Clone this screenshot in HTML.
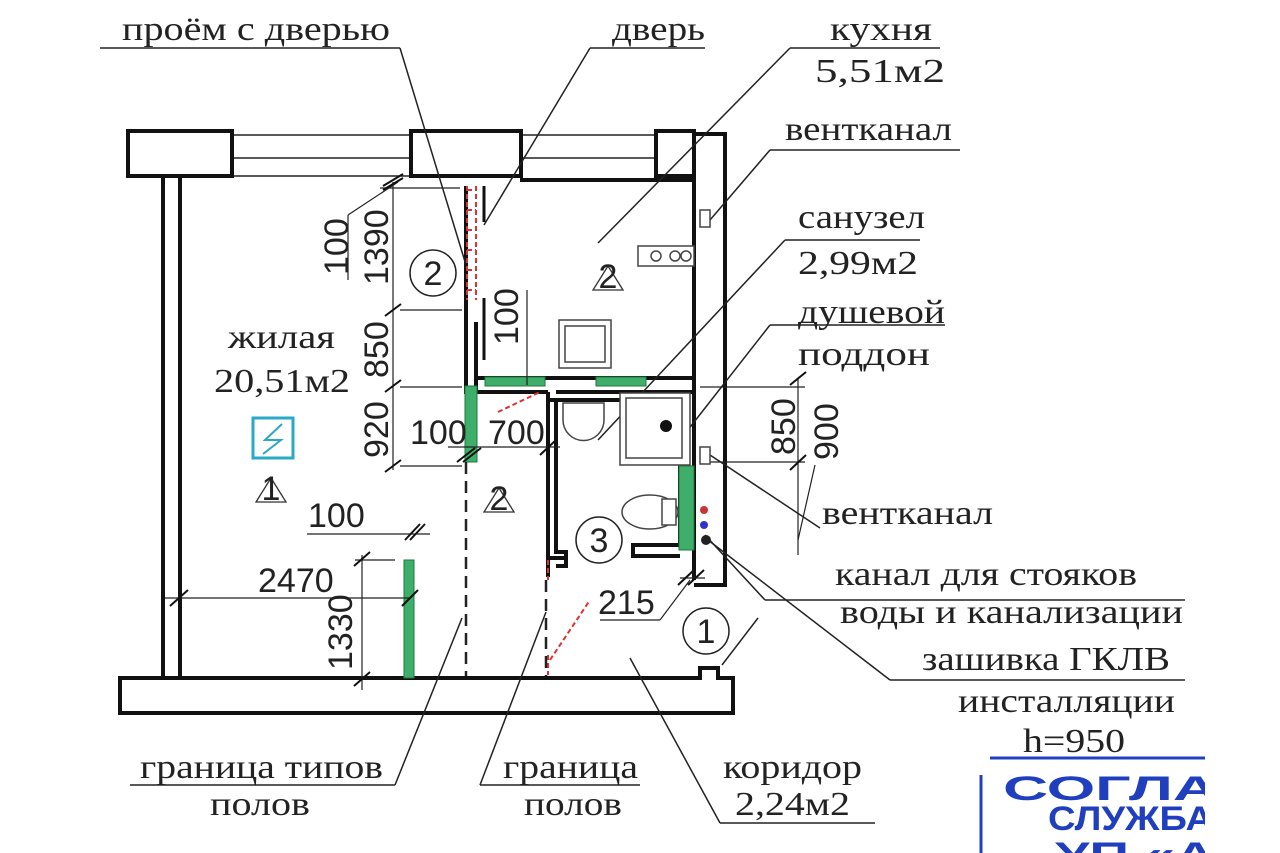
<!DOCTYPE html>
<html><head><meta charset="utf-8"><style>
html,body{margin:0;padding:0;background:#fff;}
svg{display:block}
text{font-family:"Liberation Serif",serif;font-size:34px;fill:#222}
.s{font-family:"Liberation Sans",sans-serif;}
</style></head><body>
<svg width="1280" height="853" viewBox="0 0 1280 853" xmlns="http://www.w3.org/2000/svg">
<g stroke="#222" fill="none" stroke-width="1.5">
<line x1="232" y1="135" x2="410" y2="135"/><line x1="232" y1="158" x2="410" y2="158"/><line x1="232" y1="176" x2="410" y2="176"/>
<line x1="520" y1="135" x2="655" y2="135"/><line x1="520" y1="158" x2="655" y2="158"/>
</g>
<g stroke="#111" fill="#fff" stroke-width="4">
<rect x="128" y="131" width="104" height="45"/>
<rect x="411" y="131" width="110" height="45"/>
<rect x="656" y="131" width="38" height="45"/>
</g>
<g stroke="#111" stroke-width="4" fill="none">
<path d="M163 176 V678 M180 176 V678"/>
<path d="M694 134 H725 V585 H694 M694 176 V400"/>
<path d="M520 180 H694"/>
<path d="M466 322 V392 H476 V322 M466 186 V322"/>
<path d="M476 378 H694 M476 392 H548 M632 392 H694"/>
<path d="M548 392 V558 H566 M548 400 V577"/>
<path d="M556 400 V552 H566 V566 H556"/>
<path d="M556 392 H680 M548 400 H680 V545 H633 V556 H680"/>
<path d="M694 400 V580"/>
<path d="M120 678 H700 V668 H718 V678 H733 V713 H120 Z" fill="#fff"/>
</g>
<g fill="#3fae6a" stroke="#1e7a3c" stroke-width="1">
<rect x="465" y="386" width="12" height="76"/>
<rect x="485" y="377" width="60" height="9"/>
<rect x="596" y="377" width="50" height="9"/>
<rect x="404" y="560" width="10" height="118"/>
<rect x="679" y="466" width="15" height="84"/>
</g>
<g stroke="#d33" stroke-width="2" stroke-dasharray="5 3" fill="none">
<path d="M467 186 V300 M476 186 V300 M467 190 H476 M467 210 H476 M467 230 H476 M467 250 H476 M467 270 H476 M467 290 H476"/>
<path d="M498 412 L540 392"/>
<path d="M550 660 L590 600"/>
<path d="M548 560 V580 M548 655 V675"/>
</g>
<g stroke="#111" stroke-width="3"><line x1="484" y1="186" x2="484" y2="222"/><line x1="484" y1="298" x2="484" y2="360"/></g>
<g stroke="#222" stroke-width="2.5" stroke-dasharray="12 7">
<line x1="466" y1="462" x2="466" y2="676"/><line x1="546" y1="580" x2="546" y2="676"/>
</g>
<g stroke="#222" stroke-width="1.2" fill="none">
<line x1="393" y1="182" x2="393" y2="470"/>
<line x1="380" y1="188" x2="460" y2="188"/>
<line x1="400" y1="310" x2="462" y2="310"/>
<line x1="400" y1="387" x2="462" y2="387"/>
<line x1="400" y1="466" x2="462" y2="466"/>
<line x1="348" y1="215" x2="398" y2="182"/><line x1="348" y1="215" x2="348" y2="280"/>
<line x1="448" y1="447" x2="560" y2="447"/>
<line x1="527" y1="290" x2="527" y2="385"/>
<line x1="165" y1="598" x2="410" y2="598"/>
<line x1="307" y1="534" x2="430" y2="534"/>
<line x1="362" y1="555" x2="362" y2="690"/><line x1="355" y1="560" x2="395" y2="560"/>
<line x1="600" y1="620" x2="660" y2="620"/><line x1="660" y1="620" x2="690" y2="580"/>
<line x1="680" y1="578" x2="705" y2="578"/>
<line x1="798" y1="378" x2="798" y2="555"/><line x1="700" y1="387" x2="805" y2="387"/>
<line x1="708" y1="462" x2="805" y2="462"/>
<line x1="815" y1="465" x2="798" y2="540"/>
</g>
<g stroke="#111" stroke-width="2">
<path d="M383 190 L403 178 M383 186 L403 174"/>
<path d="M385 316 L401 304 M385 392 L401 380 M385 472 L401 460"/>
<path d="M457 462 L475 448 M463 462 L481 448 M540 455 L556 440"/>
<path d="M170 606 L188 590 M402 606 L418 590"/>
<path d="M405 540 L420 524 M410 540 L425 524"/>
<path d="M354 566 L370 552 M354 686 L370 672"/>
<path d="M678 585 L694 570 M688 585 L704 570"/>
<path d="M790 385 L806 372 M790 470 L806 455"/>
</g>
<g stroke="#222" stroke-width="1.5" fill="none">
<line x1="100" y1="48" x2="400" y2="48"/><line x1="400" y1="48" x2="466" y2="265"/>
<line x1="590" y1="48" x2="705" y2="48"/><line x1="590" y1="48" x2="484" y2="225"/>
<line x1="790" y1="48" x2="940" y2="48"/><line x1="790" y1="48" x2="598" y2="243"/>
<line x1="770" y1="150" x2="960" y2="150"/><line x1="770" y1="150" x2="710" y2="220"/>
<line x1="785" y1="240" x2="920" y2="240"/><line x1="785" y1="240" x2="598" y2="440"/>
<line x1="770" y1="325" x2="945" y2="325"/><line x1="770" y1="325" x2="680" y2="440"/>
<line x1="710" y1="455" x2="820" y2="528"/>
<line x1="765" y1="600" x2="1185" y2="600"/><line x1="765" y1="600" x2="705" y2="535"/>
<line x1="890" y1="680" x2="1185" y2="680"/><line x1="890" y1="680" x2="708" y2="540"/>
<line x1="722" y1="665" x2="758" y2="618"/>
<line x1="720" y1="823" x2="875" y2="823"/><line x1="720" y1="823" x2="630" y2="658"/>
<line x1="130" y1="785" x2="395" y2="785"/><line x1="395" y1="785" x2="462" y2="618"/>
<line x1="480" y1="785" x2="640" y2="785"/><line x1="480" y1="785" x2="546" y2="612"/>
</g>
<g stroke="#444" stroke-width="1.5" fill="#fff">
<rect x="638" y="246" width="56" height="20"/><circle cx="656" cy="256" r="5"/><circle cx="675" cy="256" r="5"/><circle cx="686" cy="256" r="5"/>
<rect x="559" y="320" width="52" height="48"/><rect x="565" y="326" width="40" height="36"/>
<path d="M563 403 H604 V420 A20 20 0 0 1 563 420 Z"/>
<rect x="620" y="393" width="70" height="72"/><rect x="626" y="398" width="56" height="60"/>
<rect x="700" y="210" width="10" height="17"/><rect x="700" y="447" width="10" height="17"/>
<ellipse cx="650" cy="512" rx="28" ry="17"/><rect x="662" y="499" width="14" height="26"/>
</g>
<circle cx="666" cy="426" r="6" fill="#111"/>
<circle cx="704" cy="510" r="4" fill="#c33"/><circle cx="704" cy="525" r="4" fill="#33c"/><circle cx="706" cy="540" r="5" fill="#222"/>
<g stroke="#222" stroke-width="1.5" fill="#fff">
<circle cx="433" cy="273" r="23"/><circle cx="599" cy="540" r="23"/><circle cx="706" cy="631" r="23"/>
</g>
<text class="s" x="433" y="285" text-anchor="middle" font-size="30">2</text>
<text class="s" x="599" y="552" text-anchor="middle" font-size="30">3</text>
<text class="s" x="706" y="643" text-anchor="middle" font-size="30">1</text>
<g stroke="#333" stroke-width="1.3" fill="none">
<path d="M256 502 L271 478 L286 502 Z"/><path d="M484 512 L499 488 L514 512 Z"/><path d="M593 290 L608 266 L623 290 Z"/>
</g>
<text class="s" x="271" y="500" text-anchor="middle" font-size="14">1</text>
<text class="s" x="499" y="510" text-anchor="middle" font-size="14">2</text>
<text class="s" x="608" y="288" text-anchor="middle" font-size="14">2</text>
<rect x="253" y="418" width="40" height="40" fill="none" stroke="#2aa8c8" stroke-width="3"/>
<path d="M282 424 L265 440 L281 440 L263 454" stroke="#2aa8c8" stroke-width="2" fill="none"/>
<text x="122" y="40" textLength="268" lengthAdjust="spacingAndGlyphs">проём с дверью</text>
<text x="612" y="40" textLength="93" lengthAdjust="spacingAndGlyphs">дверь</text>
<text x="830" y="40" textLength="102" lengthAdjust="spacingAndGlyphs">кухня</text>
<text x="815" y="82" textLength="130" lengthAdjust="spacingAndGlyphs">5,51м2</text>
<text x="785" y="140" textLength="167" lengthAdjust="spacingAndGlyphs">вентканал</text>
<text x="798" y="228" textLength="127" lengthAdjust="spacingAndGlyphs">санузел</text>
<text x="798" y="274" textLength="120" lengthAdjust="spacingAndGlyphs">2,99м2</text>
<text x="798" y="323" textLength="147" lengthAdjust="spacingAndGlyphs">душевой</text>
<text x="798" y="365" textLength="132" lengthAdjust="spacingAndGlyphs">поддон</text>
<text x="822" y="524" textLength="171" lengthAdjust="spacingAndGlyphs">вентканал</text>
<text x="835" y="585" textLength="302" lengthAdjust="spacingAndGlyphs">канал для стояков</text>
<text x="840" y="623" textLength="343" lengthAdjust="spacingAndGlyphs">воды и канализации</text>
<text x="922" y="670" textLength="248" lengthAdjust="spacingAndGlyphs">зашивка ГКЛВ</text>
<text x="958" y="712" textLength="217" lengthAdjust="spacingAndGlyphs">инсталляции</text>
<text x="1023" y="752" textLength="102" lengthAdjust="spacingAndGlyphs">h=950</text>
<text x="228" y="348" textLength="107" lengthAdjust="spacingAndGlyphs">жилая</text>
<text x="214" y="392" textLength="136" lengthAdjust="spacingAndGlyphs">20,51м2</text>
<text x="140" y="778" textLength="243" lengthAdjust="spacingAndGlyphs">граница типов</text>
<text x="210" y="815" textLength="100" lengthAdjust="spacingAndGlyphs">полов</text>
<text x="503" y="778" textLength="135" lengthAdjust="spacingAndGlyphs">граница</text>
<text x="524" y="815" textLength="98" lengthAdjust="spacingAndGlyphs">полов</text>
<text x="723" y="778" textLength="139" lengthAdjust="spacingAndGlyphs">коридор</text>
<text x="735" y="815" textLength="115" lengthAdjust="spacingAndGlyphs">2,24м2</text>
<text class="s" x="410" y="444" font-size="26">100</text>
<text class="s" x="488" y="444" font-size="26">700</text>
<text class="s" x="308" y="527" font-size="26">100</text>
<text class="s" x="258" y="592" font-size="26">2470</text>
<text class="s" x="598" y="614" font-size="26">215</text>
<text transform="translate(348 275) rotate(-90)" class="s" font-size="26">100</text>
<text transform="translate(388 285) rotate(-90)" class="s" font-size="26">1390</text>
<text transform="translate(388 378) rotate(-90)" class="s" font-size="26">850</text>
<text transform="translate(388 458) rotate(-90)" class="s" font-size="26">920</text>
<text transform="translate(518 345) rotate(-90)" class="s" font-size="26">100</text>
<text transform="translate(352 670) rotate(-90)" class="s" font-size="26">1330</text>
<text transform="translate(795 455) rotate(-90)" class="s" font-size="26">850</text>
<text transform="translate(838 460) rotate(-90)" class="s" font-size="26">900</text>
<line x1="990" y1="758" x2="1205" y2="758" stroke="#2040c0" stroke-width="3"/>
<line x1="981" y1="775" x2="981" y2="853" stroke="#2040c0" stroke-width="3"/>
<text class="s" x="1003" y="800" font-size="38" textLength="215" lengthAdjust="spacingAndGlyphs" style="fill:#1f3fbf;font-weight:bold">СОГЛА</text>
<text class="s" x="1048" y="830" font-size="27" textLength="165" lengthAdjust="spacingAndGlyphs" style="fill:#1f3fbf;font-weight:bold">СЛУЖБА</text>
<text class="s" x="1055" y="866" font-size="32" textLength="160" lengthAdjust="spacingAndGlyphs" style="fill:#1f3fbf;font-weight:bold">УП «А</text>
<rect x="1205" y="740" width="75" height="113" fill="#fff"/>
</svg>
</body></html>
